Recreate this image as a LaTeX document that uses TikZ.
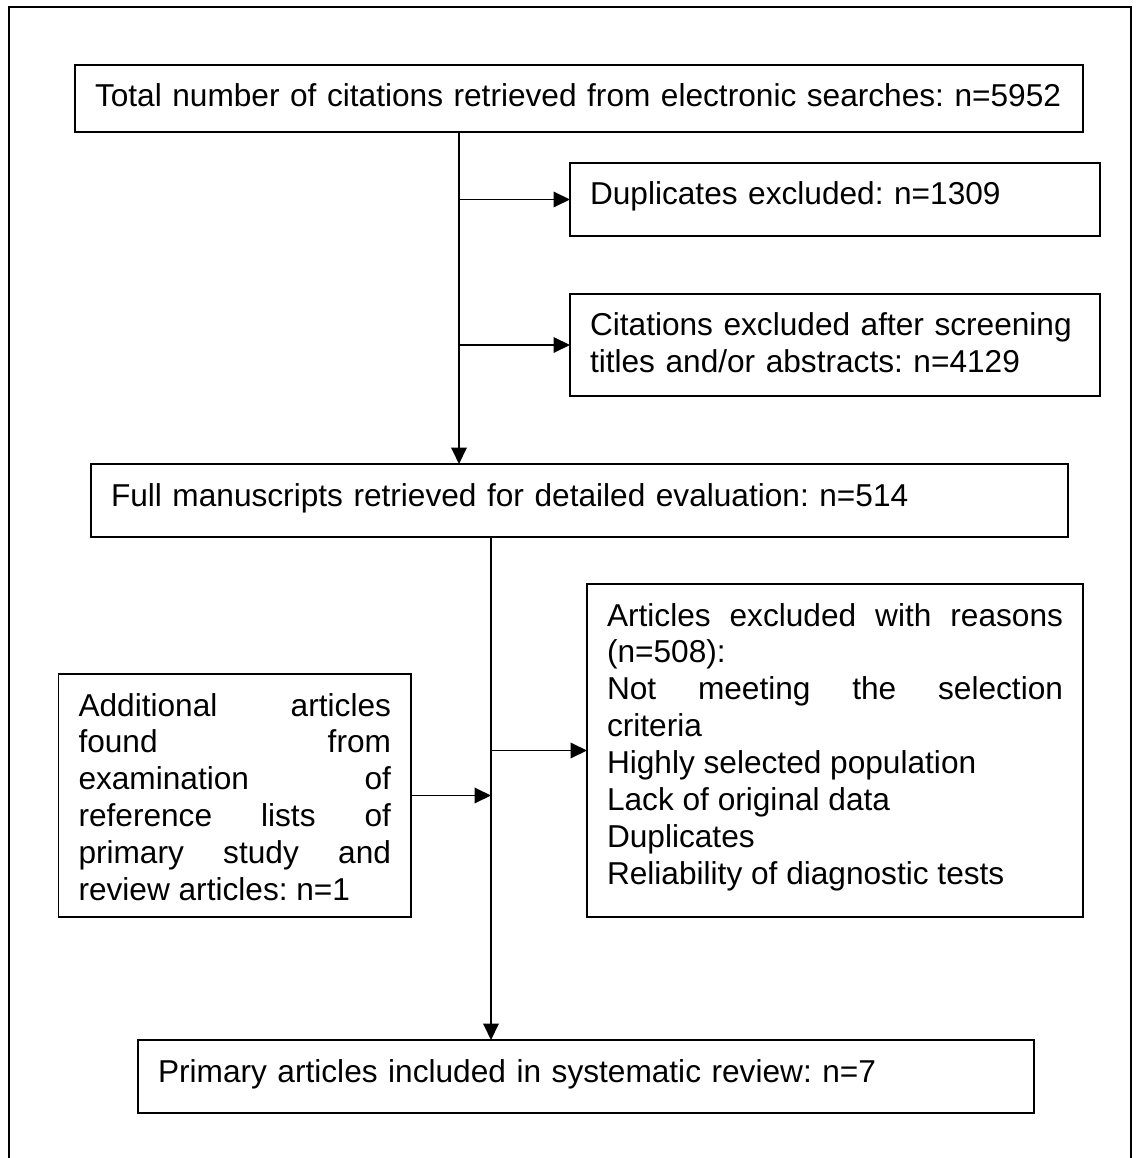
\documentclass[tikz,border=0pt]{standalone}
\usepackage{fontspec}
\setmainfont{Liberation Sans}
\usepackage{tikz}
\usetikzlibrary{arrows.meta, positioning}

\begin{document}
\begin{tikzpicture}[
    flownode/.style={rectangle, draw=black, line width=0.8pt, outer sep=0pt, inner xsep=0.4cm, inner ysep=0.26cm, text height=0.58cm, align=left, anchor=north west, font=\fontsize{18pt}{21pt}\selectfont\frenchspacing},
    arrow/.style={-{Triangle[length=0.33cm, width=0.31cm]}, line width=1.1pt, draw=black}
]

\path[use as bounding box, fill=white] (0,0) rectangle (22.76,-23.16);
\draw[line width=0.8pt] (0.18,-23.16) |- (22.62,-0.14) -- (22.62,-23.16);

\node[flownode, text width=19.36cm, text depth=0.24cm] (search) at (1.5,-1.3) {Total number of citations retrieved from electronic searches: n=5952};
\node[flownode, text width=9.8cm, text depth=0.36cm, below=0.62cm of search.south west, anchor=north west, xshift=9.9cm] (duplicates) {Duplicates excluded: n=1309};
\node[flownode, text width=9.8cm, text depth=0.94cm, below=1.16cm of duplicates.south west, anchor=north west] (screened) {Citations excluded after screening\\titles and/or abstracts: n=4129};
\node[flownode, text width=18.74cm, text depth=0.36cm, below=1.36cm of screened.south west, anchor=north west, xshift=-9.58cm] (fulltext) {Full manuscripts retrieved for detailed evaluation: n=514};
\node[flownode, text width=9.12cm, text depth=5.56cm, align=justify, below=0.94cm of fulltext.south west, anchor=north west, xshift=9.92cm] (excluded) {Articles excluded with reasons\linebreak (n=508):\\Not meeting the selection\linebreak criteria\\Highly selected population\\Lack of original data\\Duplicates\\Reliability of diagnostic tests};
\node[flownode, text width=6.25cm, text depth=3.76cm, align=justify, below=2.74cm of fulltext.south west, anchor=north west, xshift=-0.65cm] (handsearch) {Additional articles\linebreak found from\linebreak examination of\linebreak reference lists of\linebreak primary study and\linebreak review articles: n=1};
\node[flownode, text width=17.12cm, text depth=0.36cm, below=2.46cm of handsearch.south west, anchor=north west, xshift=1.59cm] (included) {Primary articles included in systematic review: n=7};

\coordinate (split) at ([xshift=7.68cm]search.south west);
\coordinate (merge) at ([xshift=8cm]fulltext.south west);

\draw[arrow] (split) -- (split |- fulltext.north);
\draw[arrow] (split |- duplicates.west) -- (duplicates.west);
\draw[arrow] (split |- screened.west) -- (screened.west);
\draw[arrow] (merge) -- (merge |- included.north);
\draw[arrow] (merge |- excluded.west) -- (excluded.west);
\draw[arrow] (handsearch.east) -- (handsearch.east -| merge);

\end{tikzpicture}
\end{document}
